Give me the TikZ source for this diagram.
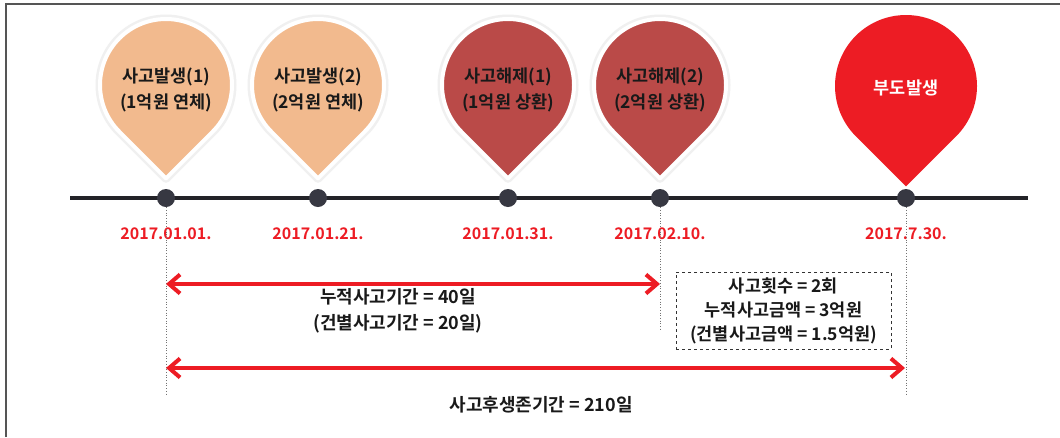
\documentclass[tikz,border=0pt]{standalone}
\usepackage{fontspec}
\newfontfamily\kr{Noto Sans CJK KR}[BoldFont={Noto Sans CJK KR Bold}]
\usetikzlibrary{arrows.meta}
\definecolor{peach}{RGB}{242,186,142}
\definecolor{darkred}{RGB}{186,74,72}
\definecolor{brightred}{RGB}{237,28,36}
\definecolor{dotcol}{RGB}{55,56,66}
\definecolor{linecol}{RGB}{35,35,40}
\definecolor{framecol}{RGB}{85,85,85}
\definecolor{txt}{RGB}{25,25,25}
\newcommand\droplet[4]{% cx, cy, r, style
  \path[#4] ({#1},{#2+1.4142*#3}) -- ([shift={(135:#3)}]#1,#2) arc[start angle=135,end angle=405,radius=#3] -- cycle;}
\tikzset{
  shadowpin/.style={draw=black!6, line width=9pt, line join=round},
  lightpin/.style={fill=peach, draw=white, line width=4pt, line join=round},
  darkpin/.style={fill=darkred, draw=white, line width=4pt, line join=round},
  redpin/.style={fill=brightred},
  pintext/.style={align=center, text=txt, font=\kr\bfseries\fontsize{17.5}{26}\selectfont},
  dotnode/.style={circle, fill=dotcol, minimum size=18pt, inner sep=0pt},
  datenode/.style={text=brightred, font=\kr\bfseries\fontsize{16}{18}\selectfont},
  vdot/.style={draw=black!55, dotted, line width=0.7pt},
  redarrow/.style={draw=brightred, line width=4pt, {Straight Barb[length=11pt,width=19pt]}-{Straight Barb[length=11pt,width=19pt]}},
  label/.style={align=center, text=txt, font=\kr\bfseries\fontsize{18}{26}\selectfont},
  infobox/.style={draw=black!80, dashed, line width=0.8pt, minimum width=215pt, minimum height=77pt, align=center, text=txt, inner sep=0pt, font=\kr\bfseries\fontsize{17.5}{24}\selectfont}
}
\begin{document}
\begin{tikzpicture}[x=1pt,y=-1pt]
\useasboundingbox (0,0) rectangle (1060,437);
\fill[white] (0,0) rectangle (1060,437);
\draw[framecol, line width=2pt] (6,437) -- (6,4) -- (1060,4);

% pins
\foreach \cx in {166,318,508,660} {\droplet{\cx}{85}{66}{shadowpin}}
\droplet{166}{85}{66}{lightpin}
\droplet{318}{85}{66}{lightpin}
\droplet{508}{85}{66}{darkpin}
\droplet{660}{85}{66}{darkpin}
\droplet{906}{86}{71}{redpin}

\node[pintext] (p1) at (166,90) {사고발생(1)\\(1억원 연체)};
\node[pintext] (p2) at (318,90) {사고발생(2)\\(2억원 연체)};
\node[pintext] (p3) at (508,90) {사고해제(1)\\(1억원 상환)};
\node[pintext] (p4) at (660,90) {사고해제(2)\\(2억원 상환)};
\node[pintext, text=white] (p5) at (906,88) {부도발생};

% timeline
\coordinate (tl) at (70,198);
\coordinate (tr) at (1028,198);
\draw[linecol, line width=4pt] (tl) -- (tr);
\node[dotnode] (d1) at (166,198) {};
\node[dotnode] (d2) at (318,198) {};
\node[dotnode] (d3) at (508,198) {};
\node[dotnode] (d4) at (660,198) {};
\node[dotnode] (d5) at (906,198) {};

% dates
\node[datenode] (t1) at (166,234) {2017.01.01.};
\node[datenode] (t2) at (318,234) {2017.01.21.};
\node[datenode] (t3) at (508,234) {2017.01.31.};
\node[datenode] (t4) at (660,234) {2017.02.10.};
\node[datenode] (t5) at (906,234) {2017.7.30.};

% dotted guides
\coordinate (e1) at (166,396);
\coordinate (e4) at (660,330);
\coordinate (e5) at (906,394);
\draw[vdot] (d1.south) -- (e1);
\draw[vdot] (d4.south) -- (e4);
\draw[vdot] (d5.south) -- (e5);

% arrows
\coordinate (a1l) at (166,284);
\coordinate (a1r) at (660,284);
\coordinate (a2l) at (166,368);
\coordinate (a2r) at (905,368);
\draw[redarrow] (a1l) -- (a1r);
\draw[redarrow] (a2l) -- (a2r);

% labels
\node[label] (l1) at (398,311) {누적사고기간 = 40일\\(건별사고기간 = 20일)};
\node[label] (l2) at (541,405) {사고후생존기간 = 210일};
\node[infobox] (box) at (783.5,310.5) {사고횟수 = 2회\\누적사고금액 = 3억원\\(건별사고금액 = 1.5억원)};
\end{tikzpicture}
\end{document}
